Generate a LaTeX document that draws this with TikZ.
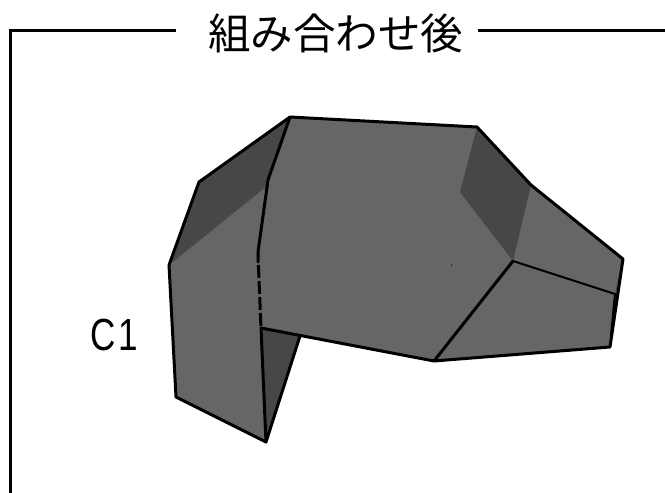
\documentclass[tikz,border=0pt]{standalone}
\usepackage{graphicx}
\usepackage{fontspec}
\newfontfamily\cjk{Noto Sans CJK JP}[Scale=1]
\newfontfamily\latinsans{Liberation Sans}
\definecolor{facegray}{HTML}{666666}
\definecolor{darkgray}{HTML}{474747}
\tikzset{
  frameline/.style={line width=3pt,black},
  edge/.style={line width=3pt,black,line join=round,line cap=round},
  plainedge/.style={line width=3pt,black,line join=round,line cap=butt},
  thinedge/.style={line width=2pt,black,line cap=round},
  titletext/.style={font=\cjk\fontsize{42.5}{46}\selectfont,text=black,inner sep=0pt},
  labeltext/.style={font=\latinsans\fontsize{45}{50}\selectfont,text=black,inner sep=0pt},
}
\begin{document}
\begin{tikzpicture}[x=1pt,y=-1pt]
\useasboundingbox (0,0) rectangle (665,493);
% coordinates of the solid
\coordinate (A) at (290,117);
\coordinate (B) at (477,127);
\coordinate (C) at (531,185);
\coordinate (D) at (623,259);
\coordinate (E) at (610,347);
\coordinate (F) at (434,361);
\coordinate (G) at (300,336);
\coordinate (G0) at (261,328);
\coordinate (H) at (266,442);
\coordinate (I) at (176,397);
\coordinate (J) at (169,265);
\coordinate (K) at (199,182);
\coordinate (L) at (268,180);
\coordinate (P) at (258,252);
\coordinate (Q) at (258.2,262);
\coordinate (Q2) at (258.4,265);
\coordinate (M) at (513,261);
\coordinate (N) at (615,294);
\coordinate (O) at (460,192);
\coordinate (R) at (611,335);
% frame
\draw[frameline] (176,30) -- (10,30) -- (10,493);
\draw[frameline] (478,30) -- (665,30);
% faces
\fill[facegray] (A) -- (B) -- (C) -- (D) -- (E) -- (F) -- (G0) -- (H) -- (I) -- (J) -- (K) -- cycle;
\fill[darkgray] (A) -- (K) -- (J) -- (267,186) -- (L) -- cycle;
\fill[darkgray] (B) -- (C) -- (M) -- (O) -- cycle;
\fill[darkgray] (G0) -- (G) -- (H) -- cycle;
\fill[darkgray] (D) -- (N) -- (R) -- cycle;
\fill[black] (451.5,265) circle (0.6);
% outlines
\draw[edge] (A) -- (B) -- (C) -- (D) -- (E) -- (F) -- (G0);
\draw[edge] (G) -- (H) -- (I) -- (J) -- (K) -- (A);
\draw[edge] (A) -- (L) -- (P) -- (Q);
\draw[plainedge,dash pattern=on 13pt off 3pt] (Q2) -- (G0);
\draw[edge] (G0) -- (H);
\draw[edge] (M) -- (F);
\draw[thinedge] (M) -- (N);
\draw[thinedge] (N) -- (R);
% labels
\node[titletext] (title) at (335.5,33) {組み合わせ後};
\node[labeltext] (c1) at (114,335) {\scalebox{.78}[1]{C\kern3pt 1}};
\end{tikzpicture}
\end{document}
